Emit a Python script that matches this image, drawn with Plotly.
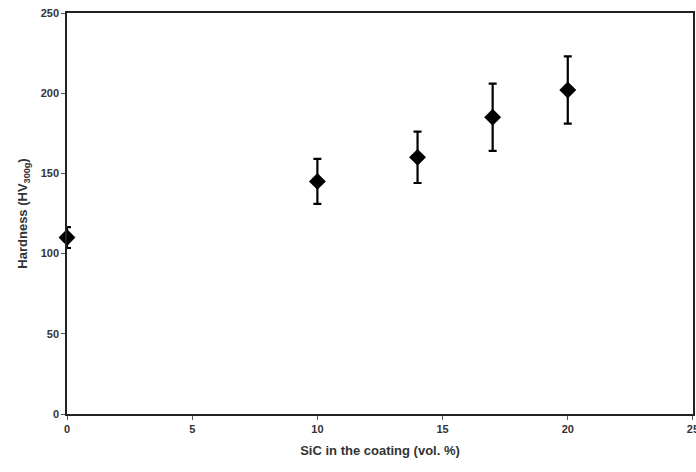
import plotly.graph_objects as go

sic = [0, 10, 14, 17, 20]
hardness = [110, 145, 160, 185, 202]
err = [6.5, 14, 16, 21, 21]

x_ticks = [0, 5, 10, 15, 20, 25]
y_ticks = [0, 50, 100, 150, 200, 250]

font_family = "Liberation Sans, Arial, sans-serif"

fig = go.Figure()
fig.add_trace(go.Scatter(
    x=sic, y=hardness,
    mode="markers",
    marker=dict(symbol="diamond", size=13, color="black"),
    error_y=dict(type="data", array=err, visible=True, color="black",
                 thickness=2.2, width=4),
    cliponaxis=False,
    showlegend=False,
))

axis_common = dict(
    showline=True, linecolor="#222222", linewidth=1.5, mirror=True,
    ticks="outside", ticklen=4, tickcolor="#555555", tickwidth=1,
    showgrid=False, zeroline=False, automargin=False,
    ticklabeloverflow="allow",
    tickfont=dict(family=font_family, size=11, color="#333333"),
)

fig.update_layout(
    width=696, height=472,
    margin=dict(l=67, r=3, t=13, b=58),
    plot_bgcolor="white", paper_bgcolor="white",
    xaxis=dict(range=[0, 25.001], tickvals=x_ticks,
               ticktext=[f"<b>{v}</b>" for v in x_ticks],
               title=dict(text="<b>SiC in the coating (vol. %)</b>",
                          font=dict(family=font_family, size=13, color="#333333"),
                          standoff=12),
               **axis_common),
    yaxis=dict(range=[0, 250], tickvals=y_ticks,
               ticktext=[f"<b>{v}</b>" for v in y_ticks],
               title=dict(text="<b>Hardness (HV<sub>300g</sub>)</b>",
                          font=dict(family=font_family, size=13, color="#333333"),
                          standoff=10),
               **axis_common),
)

fig.write_html("out.html")
